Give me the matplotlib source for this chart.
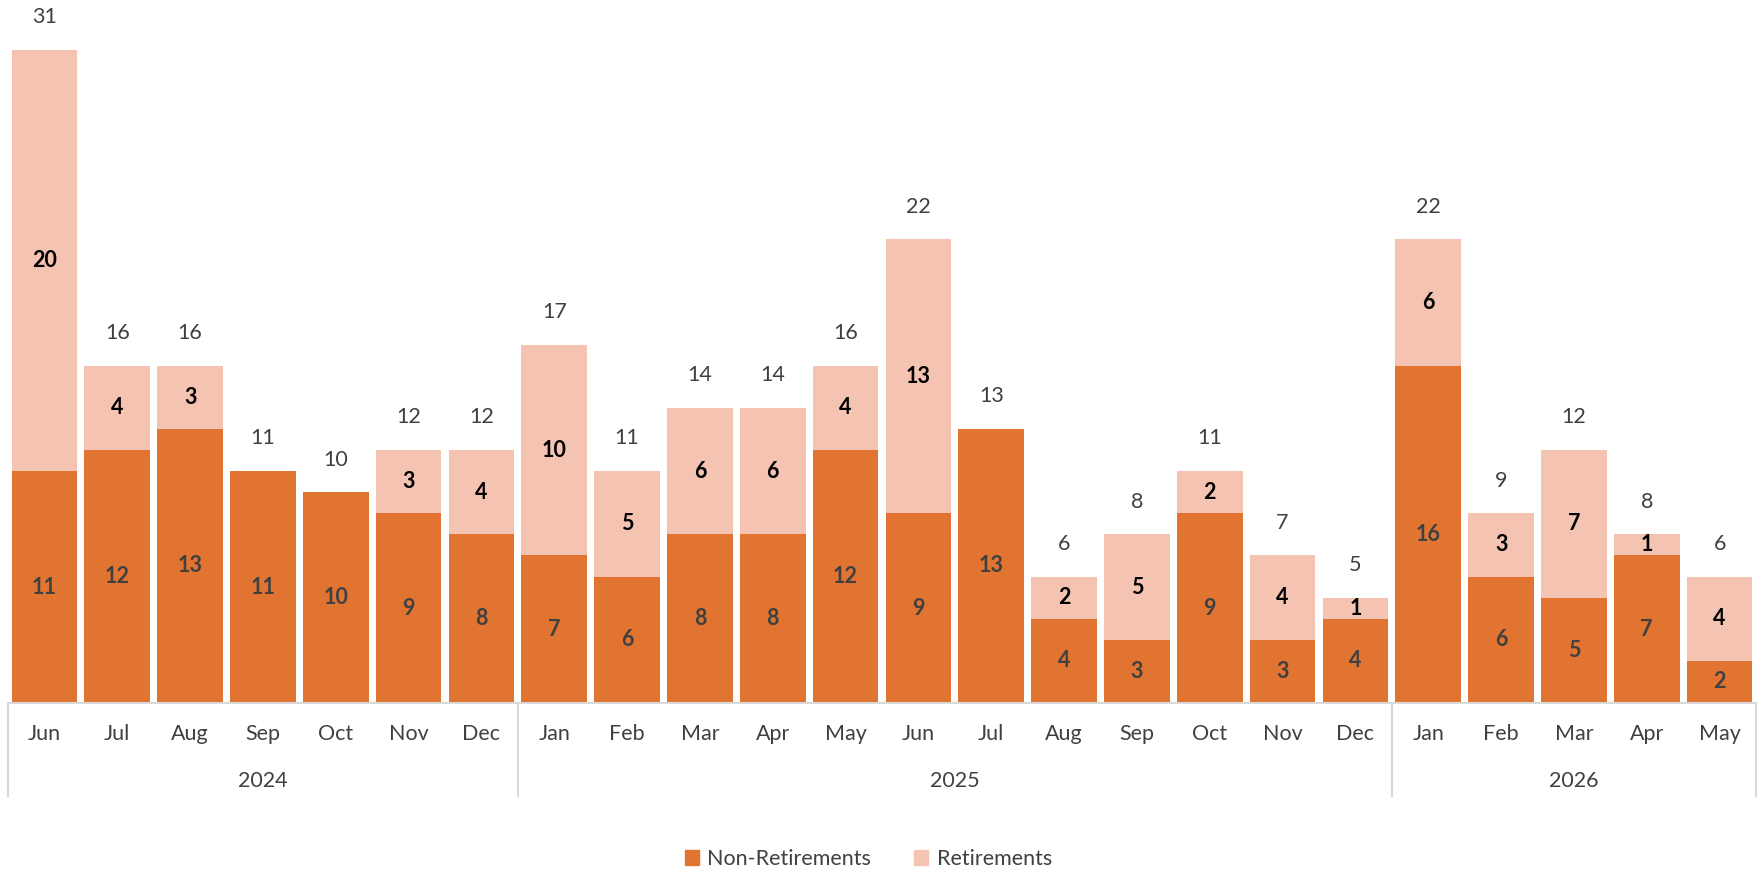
import numpy as np
import matplotlib.pyplot as plt
from matplotlib.patches import Patch

plt.rcParams['font.family'] = ['Lato', 'DejaVu Sans']

# data
months = ['Jun', 'Jul', 'Aug', 'Sep', 'Oct', 'Nov', 'Dec',
          'Jan', 'Feb', 'Mar', 'Apr', 'May', 'Jun', 'Jul', 'Aug', 'Sep', 'Oct', 'Nov', 'Dec',
          'Jan', 'Feb', 'Mar', 'Apr', 'May']
years = ['2024', '2025', '2026']
year_counts = [7, 12, 5]
non_ret = [11, 12, 13, 11, 10, 9, 8,
           7, 6, 8, 8, 12, 9, 13, 4, 3, 9, 3, 4,
           16, 6, 5, 7, 2]
ret = [20, 4, 3, 0, 0, 3, 4,
       10, 5, 6, 6, 4, 13, 0, 2, 5, 2, 4, 1,
       6, 3, 7, 1, 4]

c_dark = '#E07430'
c_light = '#F5C3B2'
txt = '#404040'
grid_c = '#D9D9D9'
fs = 15.5

non_ret = np.array(non_ret)
ret = np.array(ret)
total = non_ret + ret
x = np.arange(len(months))

fig = plt.figure(figsize=(17.58, 8.73), dpi=100)
ax = fig.add_axes([8 / 1758, 170 / 873, 1748 / 1758, 703 / 873])

ax.bar(x, non_ret, width=0.9, color=c_dark, linewidth=0)
ax.bar(x, ret, bottom=non_ret, width=0.9, color=c_light, linewidth=0)

for i in range(len(x)):
    ax.text(x[i], non_ret[i] / 2, str(non_ret[i]), ha='center', va='center',
            fontsize=fs, fontweight='bold', color=txt)
    if ret[i] > 0:
        ax.text(x[i], non_ret[i] + ret[i] / 2, str(ret[i]), ha='center', va='center',
                fontsize=fs, fontweight='bold', color='black')
    ax.text(x[i], total[i] + 1.55, str(total[i]), ha='center', va='center',
            fontsize=fs, color=txt)

ax.set_xlim(-0.5, len(x) - 0.5)
ax.set_ylim(0, 33.35)
for s in ax.spines.values():
    s.set_visible(False)
ax.set_yticks([])
ax.set_xticks([])

# two-level category axis
tr = ax.get_xaxis_transform()
ax.plot([-0.5, len(x) - 0.5], [0, 0], color=grid_c, lw=1.5, transform=tr, clip_on=False)
for i, m in enumerate(months):
    ax.text(x[i], -31 / 703, m, ha='center', va='center', fontsize=fs, color=txt, transform=tr)
start = 0
edges = [-0.5]
for y, n in zip(years, year_counts):
    ax.text(start + (n - 1) / 2, -78 / 703, y, ha='center', va='center',
            fontsize=fs, color=txt, transform=tr)
    start += n
    edges.append(start - 0.5)
for e in edges:
    ax.plot([e, e], [0, -93 / 703], color=grid_c, lw=1.5, transform=tr, clip_on=False)

handles = [Patch(color=c_dark, label='Non-Retirements'),
           Patch(color=c_light, label='Retirements')]
fig.legend(handles=handles, loc='center', bbox_to_anchor=(0.494, 0.016), ncol=2,
           frameon=False, fontsize=fs, handlelength=0.65, handleheight=0.65,
           handletextpad=0.4, columnspacing=2.0, labelcolor=txt)

fig.savefig('out.png', dpi=100)
